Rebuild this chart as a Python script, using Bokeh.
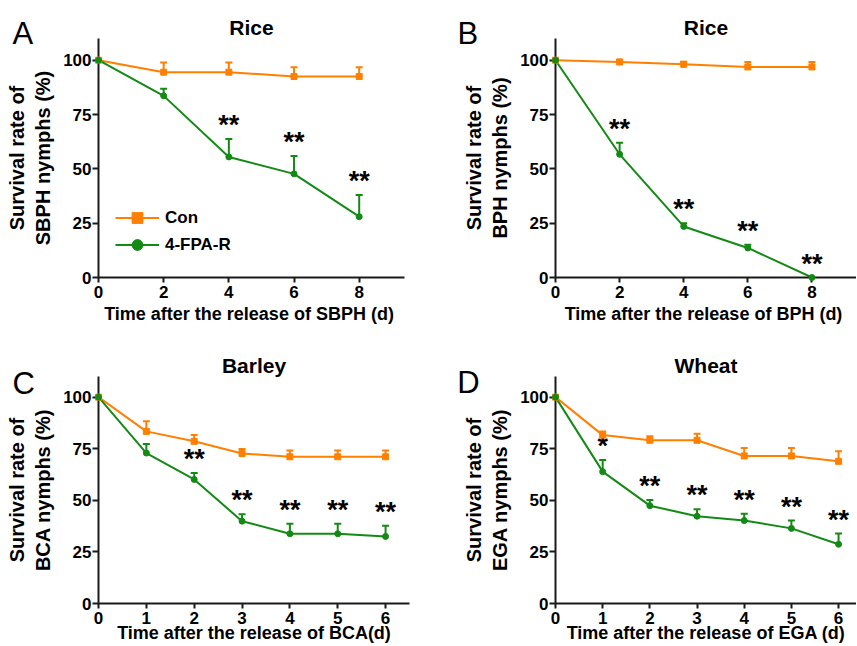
from bokeh.plotting import figure
from bokeh.models import (ColumnDataSource, Whisker, TeeHead, LabelSet,
                          FixedTicker, Range1d)
from bokeh.layouts import column, row
from bokeh.embed import file_html
from bokeh.resources import INLINE
from bokeh.core.properties import value

# ---------------- data ----------------
A_days = [0, 2, 4, 6, 8]
A_con = [100, 94.5, 94.5, 92.5, 92.5]
A_con_err = [0, 4.5, 4.5, 4.3, 4.3]
A_fpa = [100, 83.6, 55.5, 47.7, 28.0]
A_fpa_err = [0, 3.3, 8.3, 8.2, 10.0]
A_sig = ["", "", "**", "**", "**"]

B_days = [0, 2, 4, 6, 8]
B_con = [100, 99.2, 98.1, 96.9, 96.9]
B_con_err = [0, 1.0, 1.2, 2.3, 2.3]
B_fpa = [100, 56.7, 23.5, 13.6, 0]
B_fpa_err = [0, 5.3, 1.5, 1.5, 0]
B_sig = ["", "**", "**", "**", "**"]

C_days = [0, 1, 2, 3, 4, 5, 6]
C_con = [100, 83.4, 78.6, 72.7, 71.1, 71.1, 71.1]
C_con_err = [0, 4.9, 3.0, 2.2, 3.0, 3.0, 3.0]
C_fpa = [100, 72.9, 60.1, 39.9, 33.8, 33.8, 32.5]
C_fpa_err = [0, 4.4, 3.1, 3.3, 4.8, 4.8, 5.2]
C_sig = ["", "", "**", "**", "**", "**", "**"]

D_days = [0, 1, 2, 3, 4, 5, 6]
D_con = [100, 81.6, 79.1, 79.1, 71.5, 71.5, 68.9]
D_con_err = [0, 1.8, 2.0, 3.2, 3.9, 3.9, 4.9]
D_fpa = [100, 63.9, 47.4, 42.3, 40.2, 36.4, 28.7]
D_fpa_err = [0, 5.6, 2.8, 3.4, 3.3, 3.8, 5.2]
D_sig = ["", "*", "**", "**", "**", "**", "**"]

Y_TICKS = [0, 25, 50, 75, 100]
SERIES = ["Con", "4-FPA-R"]

ORANGE = "#ff7f00"
GREEN = "#138a13"
AXIS = "#1a1a1a"
FONT = "Liberation Sans"


def add_whiskers(p, days, mean, err, color):
    xs = [d for d, e in zip(days, err) if e > 0]
    lo = [m for m, e in zip(mean, err) if e > 0]
    hi = [m + e for m, e in zip(mean, err) if e > 0]
    s = ColumnDataSource(dict(x=xs, lo=lo, hi=hi))
    p.add_layout(Whisker(source=s, base="x", lower="lo", upper="hi", dimension="height",
                         line_color=color, line_width=2, lower_head=None,
                         upper_head=TeeHead(size=7, line_color=color, line_width=2)))


def panel(days, con, con_err, fpa, fpa_err, sig, xticks, xlabel, ylab, title, letter,
          geo, legend=False):
    p = figure(width=geo["bl"] + geo["fw"] + geo["br"], height=geo["bt"] + geo["fh"] + geo["bb"],
               x_range=Range1d(0, geo["xend"]), y_range=Range1d(0, 110),
               output_backend="svg", toolbar_location=None, tools="",
               min_border_left=geo["bl"], min_border_right=geo["br"],
               min_border_top=geo["bt"], min_border_bottom=geo["bb"])
    p.outline_line_color = None
    p.grid.visible = False
    p.background_fill_color = "white"
    p.border_fill_color = "white"

    p.title.text = title
    p.title.align = "center"
    p.title.text_font = FONT
    p.title.text_font_size = "21px"
    p.title.text_font_style = "bold"
    p.title.text_color = "black"
    p.title.standoff = 0

    for ax in (p.xaxis[0], p.yaxis[0]):
        ax.axis_line_width = 2
        ax.axis_line_color = AXIS
        ax.major_tick_line_width = 2
        ax.major_tick_line_color = AXIS
        ax.major_tick_in = 0
        ax.minor_tick_line_color = None
        ax.major_label_text_font = FONT
        ax.major_label_text_font_style = "bold"
        ax.major_label_text_font_size = "17px"
        ax.major_label_text_color = "black"
        ax.axis_label_text_font = FONT
        ax.axis_label_text_font_style = "bold"
        ax.axis_label_text_color = "black"
    p.xaxis[0].major_tick_out = 5
    p.yaxis[0].major_tick_out = 6
    p.xaxis[0].major_label_standoff = 3
    p.yaxis[0].major_label_standoff = 1
    p.xaxis.ticker = FixedTicker(ticks=xticks)
    p.yaxis.ticker = FixedTicker(ticks=Y_TICKS)
    p.xaxis.axis_label = xlabel
    p.xaxis.axis_label_text_font_size = "18px"
    p.xaxis.axis_label_standoff = geo["xls"]
    p.yaxis.axis_label = ylab[0] + "\n" + ylab[1]
    p.yaxis.axis_label_text_font_size = "20px"
    p.yaxis.axis_label_standoff = 6

    src = ColumnDataSource(dict(x=days, con=con, fpa=fpa))
    kc = dict(legend_label=SERIES[0]) if legend else {}
    kf = dict(legend_label=SERIES[1]) if legend else {}
    p.line("x", "con", source=src, color=ORANGE, line_width=2, **kc)
    p.line("x", "fpa", source=src, color=GREEN, line_width=2, **kf)
    add_whiskers(p, days, con, con_err, ORANGE)
    add_whiskers(p, days, fpa, fpa_err, GREEN)
    p.scatter("x", "con", source=src, marker="square", size=6, color=ORANGE,
              level="overlay", **kc)
    p.scatter("x", "fpa", source=src, marker="circle", size=6, color=GREEN,
              level="overlay", **kf)

    ss = ColumnDataSource(dict(
        x=[d for d, s in zip(days, sig) if s],
        y=[m + e for m, e, s in zip(fpa, fpa_err, sig) if s],
        t=[s for s in sig if s]))
    p.add_layout(LabelSet(source=ss, x="x", y="y", text="t", text_align="center",
                          text_baseline="alphabetic", text_font=value(FONT),
                          text_font_size="27px", text_font_style="bold",
                          text_color="black", y_offset=5))

    lx, ly = geo["letter"]
    p.text(x=[lx], y=[ly], text=[letter], text_font=value(FONT),
           text_font_size="31px", text_align="left", text_baseline="alphabetic",
           text_color="black", level="overlay")

    if legend:
        lg = p.legend[0]
        lg.location = (17, 19)
        lg.glyph_width = 44
        lg.glyph_height = 27
        lg.label_height = 27
        lg.spacing = -4
        lg.padding = 0
        lg.margin = 0
        lg.label_standoff = 6
        lg.border_line_color = None
        lg.background_fill_alpha = 0
        lg.label_text_font = FONT
        lg.label_text_font_style = "bold"
        lg.label_text_font_size = "17px"
        lg.label_text_color = "black"
    return p


geoA = dict(bl=98, fw=306, br=26, bt=38, fh=239, bb=51, xend=9.39, xls=3,
            letter=(-2.64, 112.4))
geoB = dict(bl=125, fw=301, br=0, bt=38, fh=239, bb=51, xend=9.39, xls=3,
            letter=(-3.06, 112.4))
geoC = dict(bl=98, fw=311, br=21, bt=48, fh=227, bb=43, xend=6.5, xls=-4,
            letter=(-1.80, 106.7))
geoD = dict(bl=125, fw=301, br=0, bt=48, fh=227, bb=43, xend=6.38, xls=-4,
            letter=(-2.08, 107.1))

pA = panel(A_days, A_con, A_con_err, A_fpa, A_fpa_err, A_sig, A_days,
           "Time after the release of SBPH  (d)", ["Survival rate of", "SBPH nymphs (%)"],
           "Rice", "A", geoA, legend=True)
pB = panel(B_days, B_con, B_con_err, B_fpa, B_fpa_err, B_sig, B_days,
           "Time after the release of BPH  (d)", ["Survival rate of", "BPH nymphs (%)"],
           "Rice", "B", geoB)
pC = panel(C_days, C_con, C_con_err, C_fpa, C_fpa_err, C_sig, C_days,
           "Time after the release of BCA(d)", ["Survival rate of", "BCA nymphs (%)"],
           "Barley", "C", geoC)
pD = panel(D_days, D_con, D_con_err, D_fpa, D_fpa_err, D_sig, D_days,
           "Time after the release of EGA (d)", ["Survival rate of", "EGA nymphs (%)"],
           "Wheat", "D", geoD)

layout = column(row(pA, pB), row(pC, pD))
open("out.html", "w").write(file_html(layout, INLINE))
